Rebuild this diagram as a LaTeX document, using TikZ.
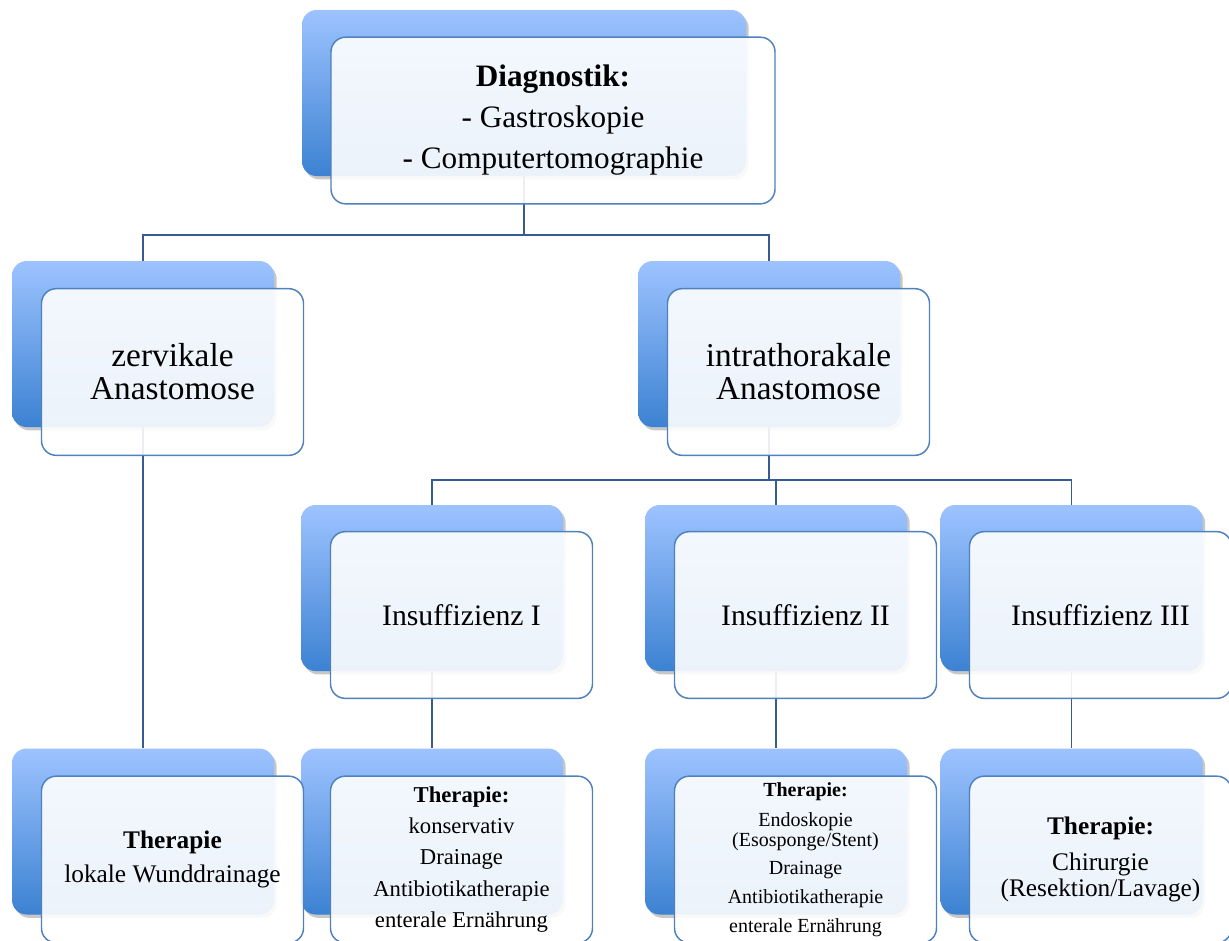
\documentclass[tikz,border=0pt]{standalone}
\usepackage{fontspec}
\setmainfont{Liberation Serif}
\usetikzlibrary{shadows}
\definecolor{bluetop}{RGB}{157,195,255}
\definecolor{bluebot}{RGB}{60,130,210}
\definecolor{frontline}{RGB}{79,129,189}
\definecolor{connline}{RGB}{55,92,148}
\begin{document}
\begin{tikzpicture}[x=0.75pt,y=-0.75pt,
  backbox/.style={rectangle, rounded corners=11pt, inner sep=0pt,
    minimum width=#1, minimum height=124.5pt,
    top color=bluetop, middle color=bluetop!85!bluebot, bottom color=bluebot, draw=none,
    drop shadow={shadow xshift=2pt, shadow yshift=-2.5pt, opacity=0.22, fill=black}},
  frontbox/.style={rectangle, rounded corners=11pt, inner sep=2pt,
    minimum width=#1, minimum height=125pt, align=center,
    draw=frontline, line width=1.1pt, fill=white, fill opacity=0.9, text opacity=1},
  conn/.style={draw=connline, line width=1.1pt},
  lvtop/.style={font=\fontsize{23.4}{30.75}\selectfont},
  lvtwo/.style={font=\fontsize{25}{24.75}\selectfont},
  lvthree/.style={font=\fontsize{22.3}{26}\selectfont},
]
\useasboundingbox (0,0) rectangle (1229,940);
\fill[white] (0,0) rectangle (1229,940);
% back boxes
\node[backbox=333pt] (tb) at (524,93) {};
\node[backbox=196.5pt] (zb) at (143,344) {};
\node[backbox=196.5pt] (ib) at (769,344) {};
\node[backbox=196.5pt] (i1b) at (432,588) {};
\node[backbox=196.5pt] (i2b) at (776,588) {};
\node[backbox=196.5pt] (i3b) at (1071.5,588) {};
\node[backbox=196.5pt] (zth) at (143,831.5) {};
\node[backbox=196.5pt] (t1b) at (432,831.5) {};
\node[backbox=196.5pt] (t2b) at (776,831.5) {};
\node[backbox=196.5pt] (t3b) at (1071.5,831.5) {};
% connectors
\coordinate (j1) at (524,235);
\coordinate (j2) at (769,480);
\draw[conn] (tb.south) -- (j1) -| (zb.north);
\draw[conn] (j1) -| (ib.north);
\draw[conn] (zb.south) -- (zth.north);
\draw[conn] (ib.south) -- (j2) -| (i1b.north);
\draw[conn] (j2) -| (i2b.north);
\draw[conn] (j2) -| (i3b.north);
\draw[conn] (i1b.south) -- (t1b.north);
\draw[conn] (i2b.south) -- (t2b.north);
\draw[conn] (i3b.south) -- (t3b.north);
% front boxes
\node[frontbox=333pt, lvtop] (tf) at (553,120.5)
  {\textbf{Diagnostik:}\\- Gastroskopie\\- Computertomographie};
\node[frontbox=196.5pt, lvtwo] (zf) at (172.5,372) {zervikale\\Anastomose};
\node[frontbox=196.5pt, lvtwo] (iff) at (798.5,372) {intrathorakale\\Anastomose};
\node[frontbox=196.5pt, lvthree] (i1f) at (461.5,615) {Insuffizienz I};
\node[frontbox=196.5pt, lvthree] (i2f) at (805.5,615) {Insuffizienz II};
\node[frontbox=196.5pt, lvthree] (i3f) at (1100.5,615) {Insuffizienz III};
\node[frontbox=196.5pt, font=\fontsize{19}{26}\selectfont] (zthf) at (172.5,859.5)
  {\textbf{Therapie}\\lokale Wunddrainage};
\node[frontbox=196.5pt, font=\fontsize{17}{23.5}\selectfont] (t1f) at (461.5,859.5)
  {\textbf{Therapie:}\\konservativ\\Drainage\\Antibiotikatherapie\\enterale Ernährung};
\node[frontbox=196.5pt, font=\fontsize{15}{13.5}\selectfont] (t2f) at (805.5,859.5)
  {\textbf{Therapie:}\\[8.25pt]Endoskopie\\(Esosponge/Stent)\\[7.5pt]Drainage\\[7.5pt]Antibiotikatherapie\\[6.75pt]enterale Ernährung};
\node[frontbox=196.5pt, font=\fontsize{19}{19.5}\selectfont] (t3f) at (1100.5,859.5)
  {\textbf{Therapie:}\\[7.5pt]Chirurgie\\(Resektion/Lavage)};
\end{tikzpicture}
\end{document}
